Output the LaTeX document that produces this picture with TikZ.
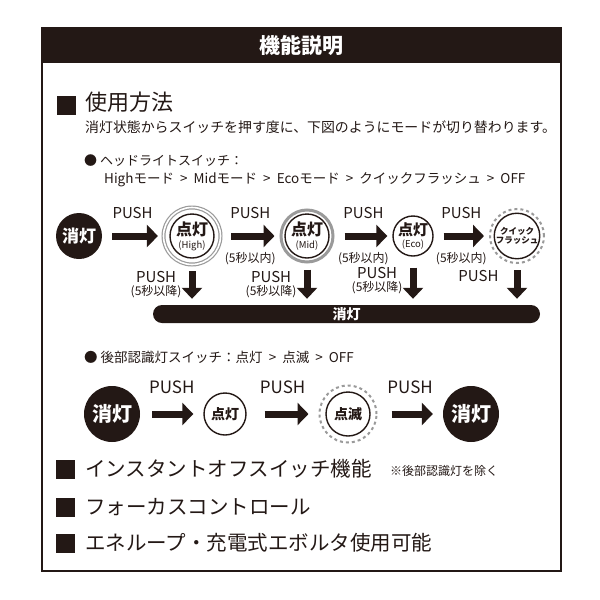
\documentclass[tikz,border=0pt]{standalone}
\usepackage{fontspec}
\setmainfont{Noto Sans CJK JP}
\usetikzlibrary{arrows.meta}
\definecolor{inkblack}{HTML}{231815}
\definecolor{ringgrey}{HTML}{9A9A9A}
\newcommand{\fsz}[1]{\fontsize{#1}{#1}\selectfont}

\begin{document}
\begin{tikzpicture}[x=1pt,y=-1pt,
		txt/.style={anchor=west, inner sep=0pt, text=inkblack},
		lbl/.style={inner sep=0pt, text=inkblack, align=center},
		sqmark/.style={fill=inkblack, minimum width=19pt, minimum height=19pt, inner sep=0pt},
		offnode/.style={circle, fill=inkblack, text=white, font=\bfseries, inner sep=0pt},
		lampnode/.style={circle, draw=inkblack, line width=1.4pt, fill=white, text=inkblack, inner sep=0pt, align=center},
		ringnode/.style={circle, draw=ringgrey, inner sep=0pt},
		pusharrow/.style={draw=inkblack, line width=7pt, -{Triangle[length=11pt,width=22pt]}, shorten <=10pt, shorten >=5pt},
		downarrow/.style={draw=inkblack, line width=7pt, -{Triangle[length=11pt,width=20pt]}, shorten <=6pt, shorten >=6pt}]
	\useasboundingbox (0,0) rectangle (600,600);
	% frame and header
	\fill[inkblack] (42,28) rectangle (561,63);
	\draw[inkblack, line width=2pt] (42,28) rectangle (561,571);
	\node[text=white, font=\bfseries\fsz{21}] (title) at (301.5,45.5) {機能説明};
	% usage
	\node[sqmark] (sq1) at (66,105) {};
	\node[txt, font=\fsz{22}] (usage) at (85,102) {使用方法};
	\node[txt, font=\fsz{13.9}] (lead) at (85,127) {消灯状態からスイッチを押す度に、下図のようにモードが切り替わります。};
	\node[txt, font=\fsz{13}] (head1) at (84,161) {● ヘッドライトスイッチ：};
	\node[txt, font=\fsz{13.5}] (modes1) at (104,180) {Highモード\ \ >\ \ Midモード\ \ >\ \ Ecoモード\ \ >\ \ クイックフラッシュ\ \ >\ \ OFF};
	% headlight modes
	\node[offnode, minimum size=46pt, font=\bfseries\fsz{17}] (off1) at (79,236) {消灯};
	\node[ringnode, line width=1.2pt, double=white, double distance=1.6pt, minimum size=57pt] (hring) at (192,236) {};
	\node[lampnode, minimum size=44pt, font=\bfseries\fsz{16}] (high) at (192,236) {点灯\\[-3pt]{\mdseries\fsz{9.5}(High)}};
	\node[ringnode, line width=3pt, minimum size=52pt] (mring) at (307,236) {};
	\node[lampnode, minimum size=44pt, font=\bfseries\fsz{16}] (mid) at (307,236) {点灯\\[-3pt]{\mdseries\fsz{9.5}(Mid)}};
	\node[lampnode, minimum size=40pt, font=\bfseries\fsz{15}] (eco) at (413,236) {点灯\\[-3pt]{\mdseries\fsz{9.5}(Eco)}};
	\node[ringnode, line width=2pt, dashed, minimum size=54pt] (qring) at (517,236) {};
	\node[lampnode, minimum size=42pt, font=\bfseries\fsz{8.5}] (quick) at (517,236) {クイック\\フラッシュ};
	\draw[pusharrow] (off1) -- node[lbl, above=14pt, font=\fsz{15}]{PUSH} (hring);
	\draw[pusharrow] (hring) -- node[lbl, above=14pt, font=\fsz{15}]{PUSH} node[lbl, below=13pt, font=\fsz{12}]{(5秒以内)} (mring);
	\draw[pusharrow] (mring) -- node[lbl, above=14pt, font=\fsz{15}]{PUSH} node[lbl, below=13pt, font=\fsz{12}]{(5秒以内)} (eco);
	\draw[pusharrow] (eco) -- node[lbl, above=14pt, font=\fsz{15}]{PUSH} node[lbl, below=13pt, font=\fsz{12}]{(5秒以内)} (qring);
	% off bar
	\node[fill=inkblack, rounded corners=9pt, minimum width=387pt, minimum height=18pt, inner sep=0pt, text=white, font=\bfseries\fsz{14}] (offbar) at (346.5,314) {消灯};
	\draw[downarrow] (hring) -- node[lbl, left=7pt, font=\fsz{15}]{PUSH\\[-2pt]{\fsz{12}(5秒以降)}} (hring |- offbar.north);
	\draw[downarrow] (mring) -- node[lbl, left=7pt, font=\fsz{15}]{PUSH\\[-2pt]{\fsz{12}(5秒以降)}} (mring |- offbar.north);
	\draw[downarrow, shorten <=11pt] (eco) -- node[lbl, left=7pt, font=\fsz{15}]{PUSH\\[-2pt]{\fsz{12}(5秒以降)}} (eco |- offbar.north);
	\draw[downarrow] (qring) -- node[lbl, left=15pt, pos=0.3, font=\fsz{15}]{PUSH} (qring |- offbar.north);
	% rear light modes
	\node[txt, font=\fsz{13.5}] (head2) at (84,357) {● 後部認識灯スイッチ：点灯\ \ >\ \ 点滅\ \ >\ \ OFF};
	\node[offnode, minimum size=56pt, font=\bfseries\fsz{20}] (off2) at (112,414) {消灯};
	\node[lampnode, minimum size=42pt, font=\bfseries\fsz{14}] (lit) at (225,414) {点灯};
	\node[ringnode, line width=2pt, dashed, minimum size=57pt] (bring) at (348,414) {};
	\node[lampnode, minimum size=44pt, font=\bfseries\fsz{14}] (blink) at (348,414) {点滅};
	\node[offnode, minimum size=56pt, font=\bfseries\fsz{20}] (off3) at (471,414) {消灯};
	\draw[pusharrow, shorten <=12pt, shorten >=10pt] (off2) -- node[lbl, above=17pt, font=\fsz{17}]{PUSH} (lit);
	\draw[pusharrow, shorten <=18pt, shorten >=10pt] (lit) -- node[lbl, above=17pt, font=\fsz{17}]{PUSH} (bring);
	\draw[pusharrow, shorten <=14pt, shorten >=10pt] (bring) -- node[lbl, above=17pt, font=\fsz{17}]{PUSH} (off3);
	% features
	\node[sqmark] (sq2) at (65,469) {};
	\node[txt, font=\fsz{20.5}] (feat1) at (85,469) {インスタントオフスイッチ機能};
	\node[txt, font=\fsz{12}] (note) at (390,471) {※後部認識灯を除く};
	\node[sqmark] (sq3) at (65,507) {};
	\node[txt, font=\fsz{20.5}] (feat2) at (85,507) {フォーカスコントロール};
	\node[sqmark] (sq4) at (65,543) {};
	\node[txt, font=\fsz{20.5}] (feat3) at (85,543) {エネループ・充電式エボルタ使用可能};
\end{tikzpicture}
\end{document}
